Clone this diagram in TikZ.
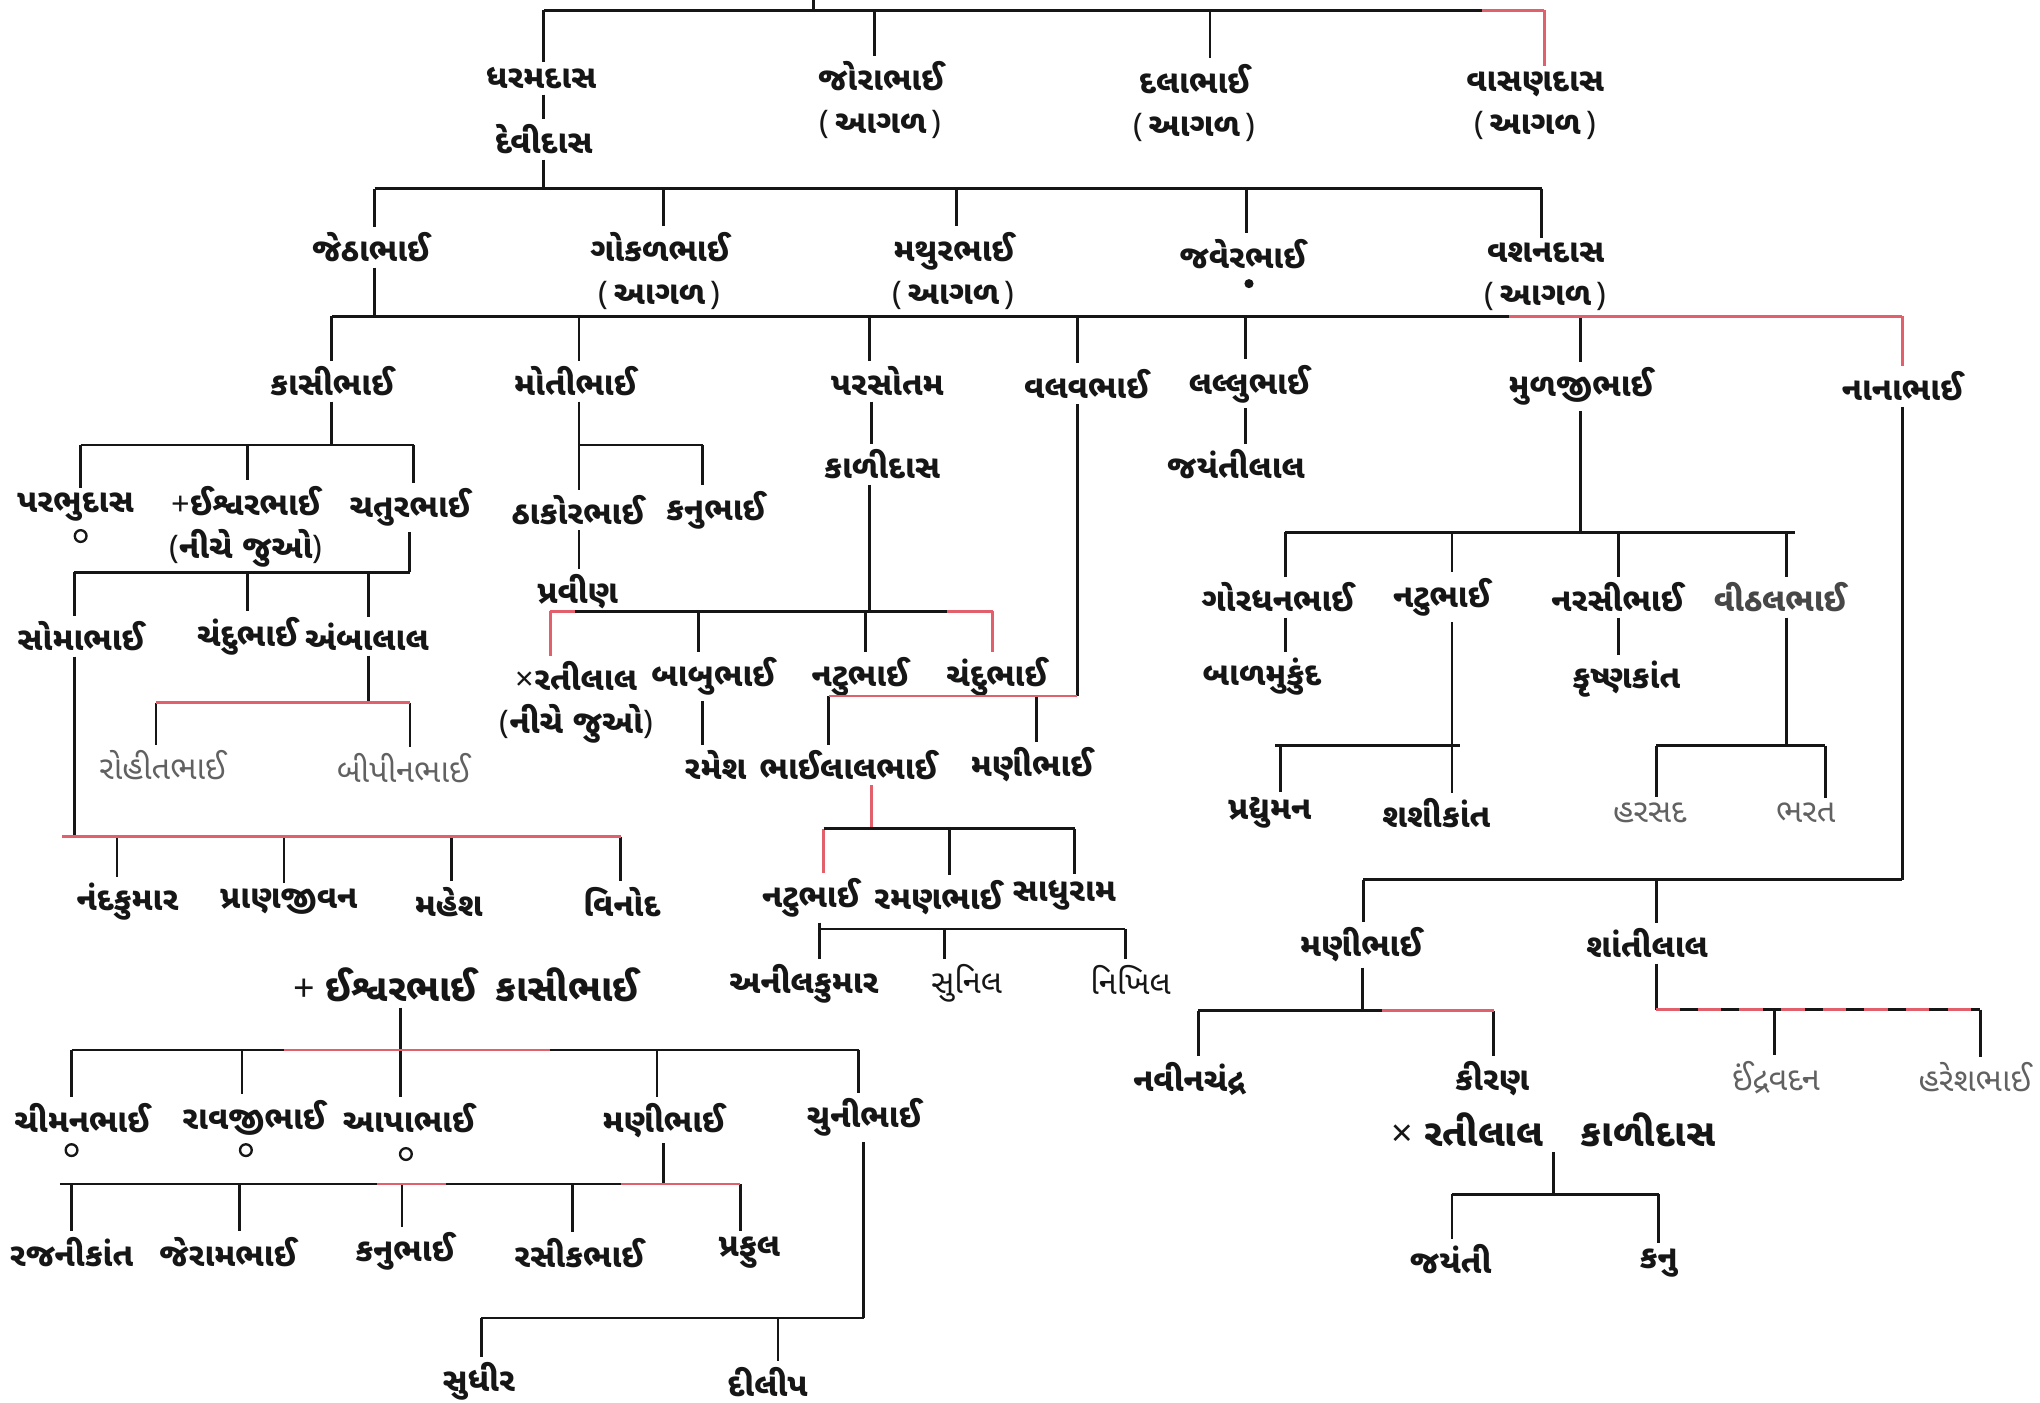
\documentclass[tikz,border=0pt]{standalone}
\usepackage{fontspec}
\newfontfamily\guj[Script=Gujarati]{Noto Sans Gujarati UI}
\newfontfamily\lat{Noto Sans}
\definecolor{redc}{RGB}{226,96,108}
\definecolor{ink}{RGB}{22,22,22}
\newcommand\gLP{{\lat(}}
\newcommand\gRP{{\lat)}}
\newcommand\gkid[5][]{\coordinate (#2) at (#3,#4);\draw[ln,#1] (#2) -- (#2 |- #5.north);}
\newcommand\gpar[5][]{\coordinate (#2) at (#3,#4);\draw[ln,#1] (#5.south -| #2) -- (#2);}
\newcommand\gvert[3]{\draw[ln] (#2.south -| #1,0) -- (#3.north -| #1,0);}
\begin{document}
\begin{tikzpicture}[x=0.5pt,y=-0.5pt,
 nm/.style={font=\guj\bfseries\fontsize{12.5}{16.5}\selectfont,inner sep=2pt,align=center,text=ink},
 nml/.style={font=\guj\fontsize{12.5}{16.5}\selectfont,inner sep=2pt,align=center,text=black!62},
 nmh/.style={font=\guj\fontsize{12.5}{16.5}\selectfont,inner sep=2pt,align=center,text=ink},
 big/.style={font=\guj\bfseries\fontsize{14.5}{18}\selectfont,inner sep=2pt,text=ink},
 ln/.style={line width=1.1pt,draw=ink},
 rl/.style={draw=redc},
 circ/.style={circle,draw=ink,line width=0.9pt,minimum size=4.5pt,inner sep=0pt},
]
\fill[white] (0,0) rectangle (1568,1078);
\useasboundingbox (0,0) rectangle (1568,1078);

% ---------- level 0
\node[nm] (n1) at (416,60) {ધરમદાસ};
\node[nm] (n5) at (418,107) {દેવીદાસ};
\node[nm] (n2) at (677,77) {જોરાભાઈ\\\gLP\,આગળ\,\gRP};
\node[nm] (n3) at (918,79) {દલાભાઈ\\\gLP\,આગળ\,\gRP};
\node[nm] (n4) at (1180,81) {વાસણદાસ\\\gLP\,આગળ\,\gRP};
\gkid{k1}{418}{8}{n1}
\gkid{k2}{672}{8}{n2}
\gkid{k3}{930}{8}{n3}
\gkid[rl]{k4}{1187}{8}{n4}
\draw[ln] (k1) -- (k4);
\coordinate (r0a) at (1139,8); \draw[ln,rl] (r0a) -- (k4);
\coordinate (s0) at (625,0); \draw[ln] (s0) -- (s0 |- k1);
\gvert{418}{n1}{n5}

% ---------- level 1
\node[nm] (n6) at (285,190) {જેઠાભાઈ};
\node[nm] (n7) at (507,208) {ગોકળભાઈ\\\gLP\,આગળ\,\gRP};
\node[nm] (n8) at (733,208) {મથુરભાઈ\\\gLP\,આગળ\,\gRP};
\node[nm] (n9) at (955,195) {જવેરભાઈ};
\node[fill=ink,circle,inner sep=0pt,minimum size=3.5pt] (d9) at (960,218) {};
\node[nm] (n10) at (1188,213) {વશનદાસ\\\gLP\,આગળ\,\gRP};
\gpar{p5}{418}{145}{n5}
\gkid{k6}{288}{145}{n6}
\gkid{k7}{510}{145}{n7}
\gkid{k8}{735}{145}{n8}
\gkid{k9}{958}{145}{n9}
\gkid{k10}{1185}{145}{n10}
\draw[ln] (k6) -- (k10);

% ---------- level 2
\gpar{p6}{288}{243}{n6}
\node[nm] (n11) at (255,293) {કાસીભાઈ};
\node[nm] (n12) at (442,293) {મોતીભાઈ};
\node[nm] (n13) at (682,293) {પરસોતમ};
\node[nm] (n14) at (835,295) {વલવભાઈ};
\node[nm] (n15) at (960,295) {લલ્લુભાઈ};
\node[nm] (n16) at (1215,297) {મુળજીભાઈ};
\node[nm] (n17) at (1462,297) {નાનાભાઈ};
\gkid{k11}{255}{243}{n11}
\gkid{k12}{445}{243}{n12}
\gkid{k13}{668}{243}{n13}
\gkid{k14}{828}{243}{n14}
\gkid{k15}{957}{243}{n15}
\gkid{k16}{1215}{243}{n16}
\gkid[rl]{k17}{1462}{243}{n17}
\draw[ln] (k11) -- (k17);
\coordinate (r2a) at (1160,243); \draw[ln,rl] (r2a) -- (k17);

% ---------- Kasibhai
\gpar{p11}{255}{342}{n11}
\node[nm] (n18) at (58,390) {પરભુદાસ};
\node[circ] (c18) at (62,412) {};
\node[nm] (n19) at (189,405) {{\lat+}ઈશ્વરભાઈ\\\gLP{}નીચે જુઓ\gRP};
\node[nm] (n20) at (315,390) {ચતુરભાઈ};
\gkid{k18}{62}{342}{n18}
\gkid{k19}{190}{342}{n19}
\gkid{k20}{318}{342}{n20}
\draw[ln] (k18) -- (k20);

\gpar{p20}{315}{440}{n20}
\node[nm] (n21) at (62,489) {સોમાભાઈ};
\node[nm] (n22) at (190,489) {ચંદુભાઈ};
\node[nm] (n23) at (282,489) {અંબાલાલ};
\gkid{k21}{57}{440}{n21}
\gkid{k22}{190}{440}{n22}
\gkid{k23}{283}{440}{n23}
\draw[ln] (k21) -- (p20);

\gpar{p23}{283}{540}{n23}
\node[nml] (n24) at (125,588) {રોહીતભાઈ};
\node[nml] (n25) at (310,590) {બીપીનભાઈ};
\gkid[line width=0.8pt]{k24}{120}{540}{n24}
\gkid[line width=0.8pt]{k25}{315}{540}{n25}
\draw[ln,rl] (k24) -- (k25);

\gpar{p21}{57}{643}{n21}
\coordinate (b6a) at (48,643);
\node[nm] (n26) at (98,693) {નંદકુમાર};
\node[nm] (n27) at (222,693) {પ્રાણજીવન};
\node[nm] (n28) at (345,693) {મહેશ};
\node[nm] (n29) at (478,693) {વિનોદ};
\gkid[line width=0.8pt]{k26}{90}{643}{n26}
\gkid[line width=0.8pt]{k27}{218}{643}{n27}
\gkid[line width=0.8pt]{k28}{347}{643}{n28}
\gkid{k29}{477}{643}{n29}
\draw[ln,rl] (b6a) -- (k29);

% ---------- Motibhai
\gpar{p12}{445}{342}{n12}
\node[nm] (n30) at (444,392) {ઠાકોરભાઈ};
\node[nm] (n31) at (550,392) {કનુભાઈ};
\gkid{k30}{445}{342}{n30}
\gkid{k31}{540}{342}{n31}
\draw[ln] (p12) -- (k31);
\node[nm] (n32) at (444,455) {પ્રવીણ};
\gvert{445}{n30}{n32}

% ---------- Parsotam
\node[nm] (n33) at (678,357) {કાળીદાસ};
\gvert{670}{n13}{n33}
\gpar{p33}{668}{470}{n33}
\node[nm] (n34) at (443,540) {{\lat×}રતીલાલ\\\gLP{}નીચે જુઓ\gRP};
\node[nm] (n35) at (548,520) {બાબુભાઈ};
\node[nm] (n36) at (661,520) {નટુભાઈ};
\node[nm] (n37) at (766,520) {ચંદુભાઈ};
\gkid[rl]{k34}{423}{470}{n34}
\gkid{k35}{537}{470}{n35}
\gkid{k36}{665}{470}{n36}
\gkid[rl]{k37}{763}{470}{n37}
\draw[ln] (k34) -- (k37);
\coordinate (r8a) at (442,470); \draw[ln,rl] (k34) -- (r8a);
\coordinate (r8b) at (728,470); \draw[ln,rl] (r8b) -- (k37);
\node[nm] (n38) at (550,588) {રમેશ};
\gvert{540}{n35}{n38}

% ---------- Valvabhai
\gpar{p14}{828}{535}{n14}
\node[nm] (n39) at (652,588) {ભાઈલાલભાઈ};
\node[nm] (n40) at (793,588) {મણીભાઈ};
\gkid{k39}{637}{535}{n39}
\gkid{k40}{797}{535}{n40}
\draw[ln,rl] (k39) -- (p14);

\gpar[rl]{p39}{670}{637}{n39}
\node[nm] (n41) at (623,690) {નટુભાઈ};
\node[nm] (n42) at (721,690) {રમણભાઈ};
\node[nm] (n43) at (818,688) {સાધુરામ};
\gkid[rl]{k41}{633}{637}{n41}
\gkid{k42}{730}{637}{n42}
\gkid{k43}{826}{637}{n43}
\draw[ln] (k41) -- (k43);

\node[nm] (n44) at (618,756) {અનીલકુમાર};
\node[nmh] (n45) at (743,756) {સુનિલ};
\node[nmh] (n46) at (869,753) {નિખિલ};
\coordinate (b11) at (630,714);
\draw[ln] (n41.south -| b11) -- (b11 |- n44.north);
\gkid{k45}{726}{714}{n45}
\gkid{k46}{865}{714}{n46}
\draw[ln] (b11) -- (k46);

% ---------- Lallubhai
\node[nm] (n47) at (950,357) {જયંતીલાલ};
\gvert{957}{n15}{n47}

% ---------- Muljibhai
\gpar{p16}{1215}{409}{n16}
\node[nm] (n48) at (982,459) {ગોરધનભાઈ};
\node[nm] (n49) at (1108,459) {નટુભાઈ};
\node[nm] (n50) at (1243,459) {નરસીભાઈ};
\node[nm,text=black!72] (n51) at (1368,459) {વીઠલભાઈ};
\gkid{k48}{988}{409}{n48}
\gkid{k49}{1116}{409}{n49}
\gkid{k50}{1244}{409}{n50}
\gkid{k51}{1373}{409}{n51}
\coordinate (b12r) at (1380,409);
\draw[ln] (k48) -- (b12r);
\node[nm] (n52) at (970,520) {બાળમુકુંદ};
\gvert{988}{n48}{n52}
\node[nm] (n53) at (1250,522) {કૃષ્ણકાંત};
\gvert{1244}{n50}{n53}
\gpar{p49}{1116}{573}{n49}
\node[nm] (n54) at (976,625) {પ્રદ્યુમન};
\node[nm] (n55) at (1104,625) {શશીકાંત};
\gkid{k54}{984}{573}{n54}
\gkid{k55}{1116}{573}{n55}
\coordinate (b13l) at (980,573); \coordinate (b13r) at (1122,573);
\draw[ln] (b13l) -- (b13r);
\gpar{p51}{1373}{573}{n51}
\node[nml] (n56) at (1268,625) {હરસદ};
\node[nml] (n57) at (1388,625) {ભરત};
\gkid{k56}{1273}{573}{n56}
\gkid{k57}{1403}{573}{n57}
\draw[ln] (k56) -- (k57);

% ---------- Nanabhai
\gpar{p17}{1462}{676}{n17}
\node[nm] (n58) at (1046,726) {મણીભાઈ};
\node[nm] (n59) at (1266,725) {શાંતીલાલ};
\gkid{k58}{1048}{676}{n58}
\gkid{k59}{1273}{676}{n59}
\draw[ln] (k58) -- (p17);

\gpar{p58}{1047}{777}{n58}
\node[nm] (n60) at (914,829) {નવીનચંદ્ર};
\node[nm] (n61) at (1147,829) {કીરણ};
\gkid{k60}{921}{777}{n60}
\gkid{k61}{1148}{777}{n61}
\draw[ln] (k60) -- (k61);
\coordinate (r16) at (1062,777); \draw[ln,rl] (r16) -- (k61);
\node[big] (n62) at (1194,868) {{\lat×} રતીલાલ\quad કાળીદાસ};
\gpar{p62}{1194}{918}{n62}
\node[nm] (n63) at (1115,968) {જયંતી};
\node[nm] (n64) at (1275,971) {કનુ};
\gkid{k63}{1116}{918}{n63}
\gkid{k64}{1275}{918}{n64}
\draw[ln] (k63) -- (k64);

\gpar{p59}{1273}{776}{n59}
\node[nml] (n65) at (1365,828) {ઈંદ્રવદન};
\node[nml] (n66) at (1518,828) {હરેશભાઈ};
\gkid{k65}{1364}{776}{n65}
\gkid{k66}{1522}{776}{n66}
\draw[ln] (p59) -- (k66);
\draw[ln,rl,dash pattern=on 9pt off 7pt] (p59) -- (k66);

% ---------- + Ishvarbhai Kasibhai
\node[big] (n67) at (358,757) {{\lat+} ઈશ્વરભાઈ\enspace કાસીભાઈ};
\gpar{p67}{308}{807}{n67}
\node[nm] (n68) at (63,859) {ચીમનભાઈ};
\node[circ] (c68) at (55,884) {};
\node[nm] (n69) at (195,859) {રાવજીભાઈ};
\node[circ] (c69) at (189,884) {};
\node[nm] (n70) at (314,859) {આપાભાઈ};
\node[circ] (c70) at (312,887) {};
\node[nm] (n71) at (510,861) {મણીભાઈ};
\node[nm] (n72) at (664,859) {ચુનીભાઈ};
\gkid{k68}{55}{807}{n68}
\gkid{k69}{186}{807}{n69}
\gkid{k70}{308}{807}{n70}
\gkid{k71}{505}{807}{n71}
\gkid{k72}{660}{807}{n72}
\draw[ln] (k68) -- (k72);
\coordinate (r19a) at (218,807); \coordinate (r19b) at (423,807);
\draw[ln,rl] (r19a) -- (r19b);

\coordinate (b20l) at (46,910);
\gpar{p71}{510}{910}{n71}
\node[nm] (n73) at (55,962) {રજનીકાંત};
\node[nm] (n74) at (175,962) {જેરામભાઈ};
\node[nm] (n75) at (311,962) {કનુભાઈ};
\node[nm] (n76) at (445,963) {રસીકભાઈ};
\node[nm] (n77) at (576,963) {પ્રફુલ};
\gkid{k73}{55}{910}{n73}
\gkid{k74}{184}{910}{n74}
\gkid{k75}{309}{910}{n75}
\gkid{k76}{440}{910}{n76}
\gkid{k77}{569}{910}{n77}
\draw[ln] (b20l) -- (k77);
\coordinate (r20a) at (477,910); \draw[ln,rl] (r20a) -- (k77);
\coordinate (r20b) at (290,910); \coordinate (r20c) at (343,910);
\draw[ln,rl] (r20b) -- (r20c);

\gpar{p72}{664}{1013}{n72}
\node[nm] (n78) at (368,1062) {સુધીર};
\node[nm] (n79) at (590,1062) {દીલીપ};
\gkid{k78}{370}{1013}{n78}
\gkid{k79}{598}{1013}{n79}
\draw[ln] (k78) -- (p72);
\end{tikzpicture}
\end{document}
